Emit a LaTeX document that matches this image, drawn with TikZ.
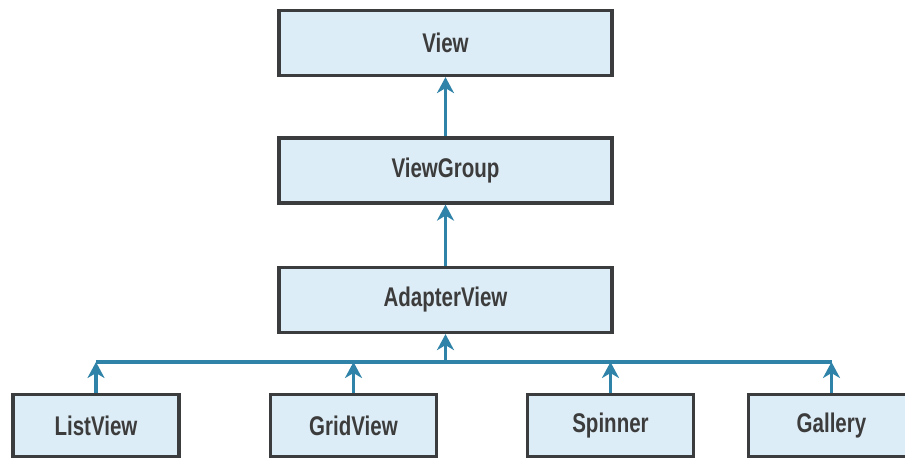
\documentclass[tikz,border=0pt]{standalone}
\usepackage{fontspec}
\setmainfont{Liberation Sans}[FakeStretch=0.76,BoldFont={Liberation Sans Bold}]
\usetikzlibrary{arrows.meta}
\definecolor{boxfill}{HTML}{DDEDF7}
\definecolor{boxline}{HTML}{3A3C3E}
\definecolor{arrowcol}{HTML}{2F82A8}
\definecolor{textcol}{HTML}{3C3C3C}
\begin{document}
\begin{tikzpicture}[x=1pt,y=-1pt,
  classbox/.style={draw=boxline, fill=boxfill, line width=3.2pt, inner sep=0pt,
    text=textcol, font=\fontsize{27}{31}\selectfont\bfseries, anchor=center},
  topbox/.style={classbox, minimum width=333pt, minimum height=65pt},
  leafbox/.style={classbox, minimum width=166pt, minimum height=62pt},
  conn/.style={draw=arrowcol, line width=3.4pt},
  inh/.style={conn, -{Stealth[length=16pt,width=17pt,inset=5pt]}}]
\clip (0,0) rectangle (905,459);
\fill[white] (0,0) rectangle (905,459);
\node[topbox] (view) at (445.5,43) {View};
\node[topbox] (viewgroup) at (445.5,170.5) {ViewGroup};
\node[topbox] (adapterview) at (445.5,300) {AdapterView};
\node[leafbox] (listview) at (96,425.5) {ListView};
\node[leafbox] (gridview) at (353.5,425.5) {GridView};
\node[leafbox] (spinner) at (610.5,425.5) {Spinner};
\node[leafbox] (gallery) at (831.5,425.5) {Gallery};
\coordinate (bus) at (445.5,362);
\draw[inh] (viewgroup.north) -- (view.south);
\draw[inh] (adapterview.north) -- (viewgroup.south);
\draw[conn] (listview.north |- bus) -- (gallery.north |- bus);
\draw[inh] (bus) -- (adapterview.south);
\draw[inh] (listview.north) -- (listview.north |- bus);
\draw[inh] (gridview.north) -- (gridview.north |- bus);
\draw[inh] (spinner.north) -- (spinner.north |- bus);
\draw[inh] (gallery.north) -- (gallery.north |- bus);
\end{tikzpicture}
\end{document}
